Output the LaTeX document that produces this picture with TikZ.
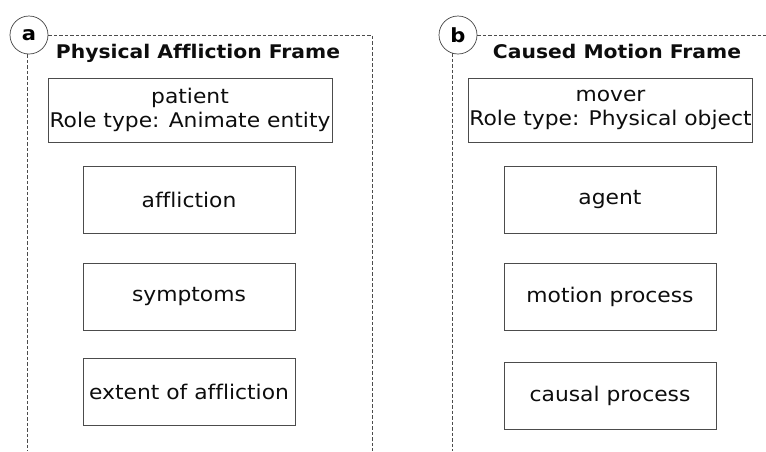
\documentclass[tikz,border=0pt]{standalone}
\usepackage{fontspec}
\setmainfont{DejaVu Sans}[FakeStretch=1.08, Ligatures=NoCommon]
\begin{document}
\begin{tikzpicture}[x=1pt, y=-1pt,
  rolebox/.style={draw=black!70, line width=0.9pt, align=center, inner sep=0pt,
    text=black!95, font=\fontsize{20.2}{24}\selectfont},
  wide/.style={minimum width=284pt, minimum height=64pt},
  narrow/.style={minimum width=212pt, minimum height=67pt},
  frametitle/.style={anchor=base, inner sep=0pt, font=\bfseries\fontsize{18.8}{20}\selectfont, text=black!95},
  badge/.style={circle, draw=black!75, line width=0.7pt, minimum size=38pt, inner sep=0pt,
    font=\bfseries\fontsize{19.5}{20}\selectfont},
  frameline/.style={draw=black!70, line width=0.75pt, dash pattern=on 3.5pt off 2pt}
]
\useasboundingbox (0,0) rectangle (766,451);

% panel a: physical affliction
\node[badge] (ba) at (29,35) {a};
\coordinate (atr) at (372,35);
\coordinate (abr) at (372,451);
\coordinate (abl) at (27,451);
\draw[frameline] (ba.east) -- (atr) -- (abr);
\draw[frameline] (ba.south -| abl) -- (abl);
\node[frametitle] (ta) at (198,58) {Physical Affliction Frame};
\node[rolebox, wide] (patient) at (190,110) {patient\\Role type: Animate entity};
\node[rolebox, narrow] (affliction) at (189,199.5) {affliction};
\node[rolebox, narrow] (symptoms) at (189,296.5) {symptoms};
\node[rolebox, narrow] (extent) at (189,391.5) {extent of affliction};

% panel b: caused motion
\node[badge] (bb) at (458,35) {b};
\coordinate (btr) at (766,35);
\coordinate (bbl) at (452,451);
\coordinate (bbt) at (452,53);
\draw[frameline] (bb.east) -- (btr);
\draw[frameline] (bbt) -- (bbl);
\node[frametitle] (tb) at (617,58) {Caused Motion Frame};
\node[rolebox, wide] (mover) at (610.5,110) {mover\\Role type: Physical object};
\node[rolebox, narrow] (agent) at (610,199.5) {agent};
\node[rolebox, narrow] (motion) at (610,296.5) {motion process};
\node[rolebox, narrow] (causal) at (610,395.5) {causal process};
\end{tikzpicture}
\end{document}
